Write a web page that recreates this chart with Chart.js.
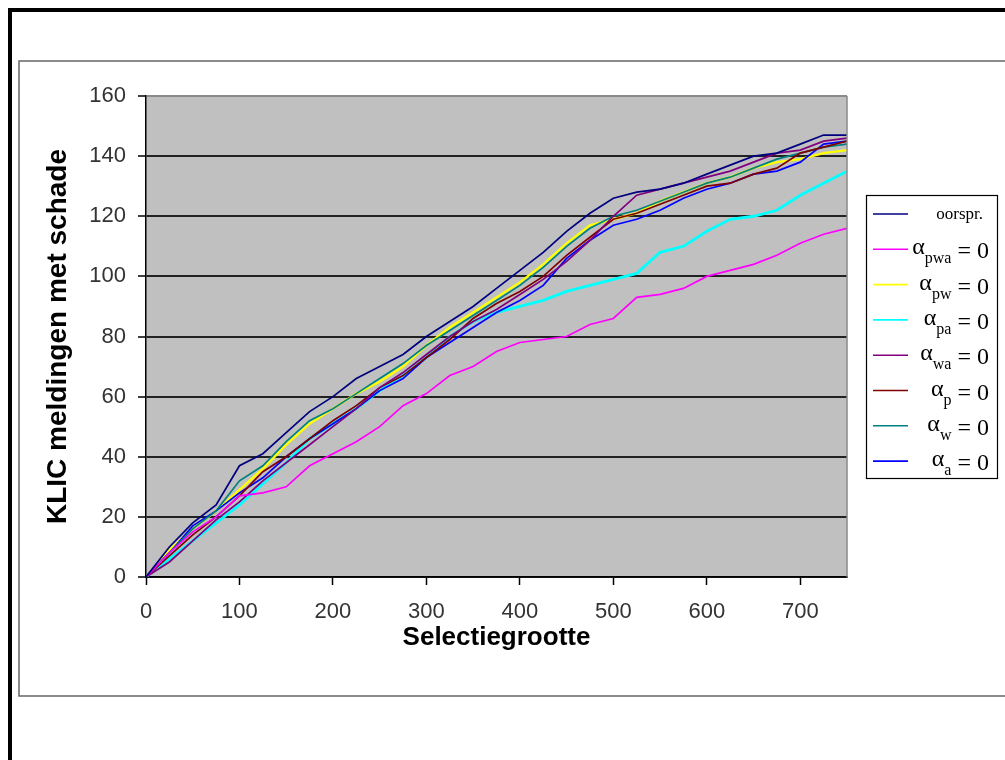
<!DOCTYPE html>
<html>
<head>
<meta charset="utf-8">
<script src="https://cdn.jsdelivr.net/npm/chart.js@4/dist/chart.umd.min.js"></script>
<style>
html,body{margin:0;padding:0;background:#fff;overflow:hidden}
#wrap{position:absolute;left:0;top:0;width:1005px;height:760px}
</style>
</head>
<body>
<div id="wrap"><canvas id="c" width="1005" height="760"></canvas></div>
<script>
// ---- data ----
const selectie = [0,25,50,75,100,125,150,175,200,225,250,275,300,325,350,375,400,425,450,475,500,525,550,575,600,625,650,675,700,725,750];
const oorspr = [0,10,18,24,37,41,48,55,60,66,70,74,80,85,90,96,102,108,115,121,126,128,129,131,134,137,140,141,144,147,147];
const aPwa   = [0,8,15,20,27,28,30,37,41,45,50,57,61,67,70,75,78,79,80,84,86,93,94,96,100,102,104,107,111,114,116];
const aPw    = [0,9,16,22,29,36,44,51,56,61,65,70,77,83,88,93,98,104,111,117,119,121,125,128,131,133,136,138,139,141,142];
const aPa    = [0,6,12,18,24,31,38,46,51,56,62,67,73,80,85,88,90,92,95,97,99,101,108,110,115,119,120,122,127,131,135];
const aWa    = [0,5,12,19,25,32,38,44,50,56,63,68,74,80,85,89,94,99,105,112,120,127,129,131,133,135,138,141,142,145,146];
const aP     = [0,7,14,20,27,35,40,46,52,57,63,67,73,79,86,91,95,100,107,113,119,121,124,127,130,131,134,136,141,143,145];
const aW     = [0,8,16,22,32,37,45,52,56,61,66,71,77,82,87,92,97,103,110,116,120,122,125,128,131,133,136,139,141,143,144];
const aA     = [0,8,17,22,28,33,40,46,51,56,62,66,73,78,83,88,92,97,106,112,117,119,122,126,129,131,134,135,138,144,145];

const seriesNames = ['oorspr.','αpwa = 0','αpw = 0','αpa = 0','αwa = 0','αp = 0','αw = 0','αa = 0'];
const legendSubs  = [null,'pwa','pw','pa','wa','p','w','a'];
const yTicksMax = 160, yStep = 20, xMax = 750, xStep = 100;
const xTitle = 'Selectiegrootte';
const yTitle = 'KLIC meldingen met schade';

// ---- styles ----
const allSeries = [oorspr,aPwa,aPw,aPa,aWa,aP,aW,aA];
const colors = ['#000080','#FF00FF','#FFFF00','#00FFFF','#800080','#800000','#008080','#0000FF'];
const widths = [1.7,1.7,2.4,2.8,1.7,1.7,1.7,1.7];
const SANS = '"Liberation Sans", Arial, sans-serif';
const SERIF = '"Liberation Serif", "Times New Roman", serif';

const framePlugin = {
  id:'frame',
  beforeDraw(chart){
    const c = chart.ctx, a = chart.chartArea;
    c.save();
    c.fillStyle = '#fff';
    c.fillRect(0,0,chart.width,chart.height);
    c.fillStyle = '#000';
    c.fillRect(8,8,4,chart.height-8);
    c.fillRect(8,8,chart.width-8,4);
    c.strokeStyle = '#666';
    c.lineWidth = 1.5;
    c.beginPath();
    c.moveTo(chart.width, 61); c.lineTo(19, 61); c.lineTo(19, 696); c.lineTo(chart.width, 696);
    c.stroke();
    c.fillStyle = '#C0C0C0';
    c.fillRect(a.left, a.top, a.right-a.left, a.bottom-a.top);
    c.restore();
  },
  afterDatasetsDraw(chart){
    const c = chart.ctx, a = chart.chartArea;
    c.save();
    c.strokeStyle = '#8a8a8a';
    c.lineWidth = 1.5;
    c.beginPath();
    c.moveTo(a.right, a.top); c.lineTo(a.right, a.bottom);
    c.stroke();
    c.restore();
  }
};

const legendPlugin = {
  id:'eqLegend',
  afterDraw(chart){
    const c = chart.ctx;
    const bx = 866, by = 195, bw = 131, bh = 283;
    c.save();
    c.fillStyle = '#fff';
    c.fillRect(bx, by, bw, bh);
    c.strokeStyle = '#000';
    c.lineWidth = 1.2;
    c.strokeRect(bx+0.5, by+0.5, bw, bh);
    const step = 35.3;
    chart.data.datasets.forEach((ds, i) => {
      const cy = 214 + i*step;
      c.strokeStyle = ds.borderColor;
      c.lineWidth = 1.6;
      c.beginPath(); c.moveTo(873, cy); c.lineTo(908, cy); c.stroke();
      c.fillStyle = '#000';
      c.textBaseline = 'alphabetic';
      const sub = legendSubs[i];
      if (!sub) {
        c.font = '17px ' + SERIF;
        c.textAlign = 'right';
        c.fillText(ds.label, 983, cy + 5);
      } else {
        const big = '24px ' + SERIF, small = '16px ' + SERIF;
        c.font = big;
        const eqW = c.measureText(' = 0').width;
        const alW = c.measureText('α').width;
        c.font = small;
        const subW = c.measureText(sub).width;
        const right = 989;
        const x0 = right - eqW - subW - alW;
        c.textAlign = 'left';
        c.font = big;
        c.fillText('α', x0, cy + 5);
        c.font = small;
        c.fillText(sub, x0 + alW, cy + 14);
        c.font = big;
        c.fillText(' = 0', x0 + alW + subW, cy + 9);
      }
    });
    c.restore();
  }
};

new Chart(document.getElementById('c').getContext('2d'), {
  type: 'line',
  data: {
    datasets: allSeries.map((s, i) => ({
      label: seriesNames[i],
      data: selectie.map((x, j) => ({x: x, y: s[j]})),
      borderColor: colors[i],
      backgroundColor: colors[i],
      borderWidth: widths[i],
      pointRadius: 0,
      tension: 0,
      fill: false,
      order: i === 3 || i === 2 ? 8 : i
    }))
  },
  options: {
    responsive: false,
    animation: false,
    devicePixelRatio: 1,
    layout: {padding: {left: 19, top: 96, right: 158, bottom: 64}},
    plugins: {legend: {display: false}, tooltip: {enabled: false}},
    scales: {
      x: {
        type: 'linear', min: 0, max: xMax, bounds: 'data',
        afterBuildTicks(s){ s.ticks = s.ticks.filter(t => t.value % xStep === 0); },
        ticks: {stepSize: xStep, maxRotation: 0, autoSkip: false,
                font: {family: SANS, size: 22}, color: '#333', padding: 14},
        grid: {drawOnChartArea: false, tickLength: 8, tickColor: '#000', tickWidth: 1.5},
        border: {color: '#000', width: 1.5},
        title: {display: true, text: xTitle, color: '#000',
                font: {family: SANS, size: 26, weight: 'bold'}, padding: {top: 0, bottom: 43}},
        afterFit(s){ s.height = 119; }
      },
      y: {
        type: 'linear', min: 0, max: yTicksMax, bounds: 'data',
        ticks: {stepSize: yStep, font: {family: SANS, size: 22}, color: '#333', padding: 12},
        grid: {color: (ctx) => (ctx.tick && ctx.tick.value === yTicksMax) ? '#8a8a8a' : '#222',
               lineWidth: 2, tickLength: 8, tickColor: '#000', tickWidth: 1.5},
        border: {color: '#000', width: 1.5},
        title: {display: true, text: yTitle, color: '#000',
                font: {family: SANS, size: 28, weight: 'bold'}, padding: {top: 22, bottom: 0}},
        afterFit(s){ s.width = 127; }
      }
    }
  },
  plugins: [framePlugin, legendPlugin]
});
</script>
</body>
</html>
